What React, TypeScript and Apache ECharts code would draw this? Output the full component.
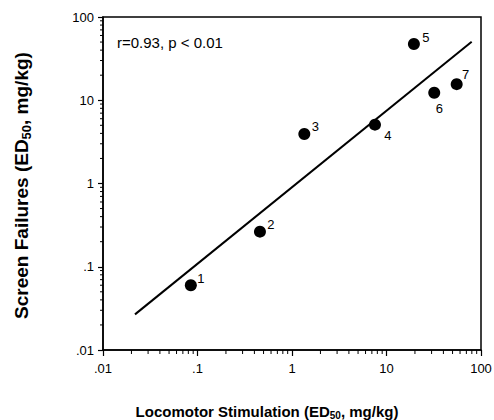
import React, { useEffect, useRef } from "react";
import * as echarts from "echarts";

// Data
const pointIds = ["1", "2", "3", "4", "5", "6", "7"];
const locomotorED50 = [0.085, 0.458, 1.35, 7.55, 19.5, 32, 55.3];
const screenED50 = [0.06, 0.264, 3.93, 5.09, 47.4, 12.3, 15.6];
const fitLineX = [0.0218, 79.7];
const fitLineY = [0.0268, 50.5];
const xTickLabels = [".01", ".1", "1", "10", "100"];
const yTickLabels = [".01", ".1", "1", "10", "100"];
const statsText = "r=0.93, p < 0.01";

// label offsets (style only)
const labelOffsets: [number, number][] = [
  [10, -7],
  [11, -7],
  [11, -8],
  [13, 11],
  [12, -6],
  [5, 16],
  [9, -10],
];

const FONT = "'Liberation Sans', Arial, Helvetica, sans-serif";

function minorValues(lo: number, hi: number): number[] {
  const out: number[] = [];
  for (let d = lo; d < hi; d *= 10) {
    for (let m = 2; m <= 9; m++) out.push(+(d * m).toPrecision(3));
  }
  return out;
}

export default function App() {
  const ref = useRef<HTMLDivElement>(null);
  useEffect(() => {
    if (!ref.current) return;
    const chart = echarts.init(ref.current, undefined, { renderer: "svg" });
    const labelFmt = (labels: string[]) => (v: number) => {
      const i = Math.round(Math.log10(v)) + 2;
      return labels[i] ?? "";
    };
    const xMinor = minorValues(0.01, 100);
    const yMinor = minorValues(0.01, 100);
    const scatterData = pointIds.map((id, i) => ({
      value: [locomotorED50[i], screenED50[i]],
      name: id,
      label: { offset: labelOffsets[i] },
    }));
    chart.setOption({
      animation: false,
      title: {
        text: statsText,
        left: 117,
        top: 35,
        textStyle: { fontFamily: FONT, fontSize: 15, fontWeight: "normal", color: "#000" },
        padding: 0,
      },
      grid: {
        left: 103,
        right: 13,
        top: 17,
        bottom: 70,
        show: true,
        borderColor: "#000",
        borderWidth: 1.5,
        containLabel: false,
        outerBoundsMode: "none",
      },
      xAxis: {
        type: "log",
        logBase: 10,
        min: 0.01,
        max: 100,
        splitNumber: 4,
        name: "Locomotor Stimulation (ED{sub|50}, mg/kg){pad|}",
        nameLocation: "middle",
        nameGap: 52,
        nameTextStyle: {
          fontFamily: FONT,
          fontSize: 15,
          fontWeight: "bold",
          color: "#000",
          lineHeight: 18,
          verticalAlign: "top",
          rich: {
            sub: { fontFamily: FONT, fontSize: 10, fontWeight: "bold", color: "#000", verticalAlign: "bottom", lineHeight: 8 },
            pad: { width: 50, lineHeight: 18 },
          },
        },
        axisLine: { lineStyle: { color: "#000", width: 1.5 } },
        axisTick: { show: true, length: 6, inside: false, lineStyle: { color: "#000", width: 1.2 } },
        axisLabel: { formatter: labelFmt(xTickLabels), margin: 12, fontFamily: FONT, fontSize: 13, color: "#000" },
        splitLine: { show: false },
      },
      yAxis: {
        type: "log",
        logBase: 10,
        min: 0.01,
        max: 100,
        splitNumber: 4,
        name: "Screen Failures (ED{sub|50}, mg/kg){pad|}",
        nameLocation: "middle",
        nameGap: 70,
        nameTextStyle: {
          fontFamily: FONT,
          fontSize: 19,
          fontWeight: "bold",
          color: "#000",
          lineHeight: 24,
          rich: {
            sub: { fontFamily: FONT, fontSize: 13, fontWeight: "bold", color: "#000", verticalAlign: "bottom", lineHeight: 12 },
            pad: { width: 4, lineHeight: 24 },
          },
        },
        axisLine: { lineStyle: { color: "#000", width: 1.5 } },
        axisTick: { show: true, length: 5, inside: false, lineStyle: { color: "#000", width: 1.2 } },
        axisLabel: { formatter: labelFmt(yTickLabels), margin: 9, fontFamily: FONT, fontSize: 13, color: "#000" },
        splitLine: { show: false },
      },
      series: [
        {
          type: "line",
          data: fitLineX.map((x, i) => [x, fitLineY[i]]),
          showSymbol: false,
          symbol: "none",
          lineStyle: { color: "#000", width: 2 },
          silent: true,
        },
        {
          type: "scatter",
          data: scatterData,
          symbol: "circle",
          symbolSize: 12,
          itemStyle: { color: "#000", opacity: 1 },
          label: {
            show: true,
            position: "inside",
            formatter: (p: any) => p.name,
            fontFamily: FONT,
            fontSize: 13,
            color: "#000",
            textBorderWidth: 0,
            align: "center",
            verticalAlign: "middle",
          },
        },
        {
          type: "custom",
          clip: false,
          silent: true,
          data: xMinor.map((v) => [v, 1]),
          renderItem: (params: any, api: any) => {
            const p = api.coord([api.value(0), 0.01]);
            return {
              type: "line",
              shape: { x1: p[0], y1: p[1], x2: p[0], y2: p[1] + 4 },
              style: { stroke: "#000", lineWidth: 1 },
            };
          },
        },
        {
          type: "custom",
          clip: false,
          silent: true,
          data: yMinor.map((v) => [1, v]),
          renderItem: (params: any, api: any) => {
            const p = api.coord([0.01, api.value(1)]);
            return {
              type: "line",
              shape: { x1: p[0], y1: p[1], x2: p[0] - 3, y2: p[1] },
              style: { stroke: "#000", lineWidth: 1 },
            };
          },
        },
      ],
    });
    return () => chart.dispose();
  }, []);
  return (
    <div
      ref={ref}
      style={{ position: "fixed", left: 0, top: 0, width: 494, height: 420, background: "#fff" }}
    />
  );
}
